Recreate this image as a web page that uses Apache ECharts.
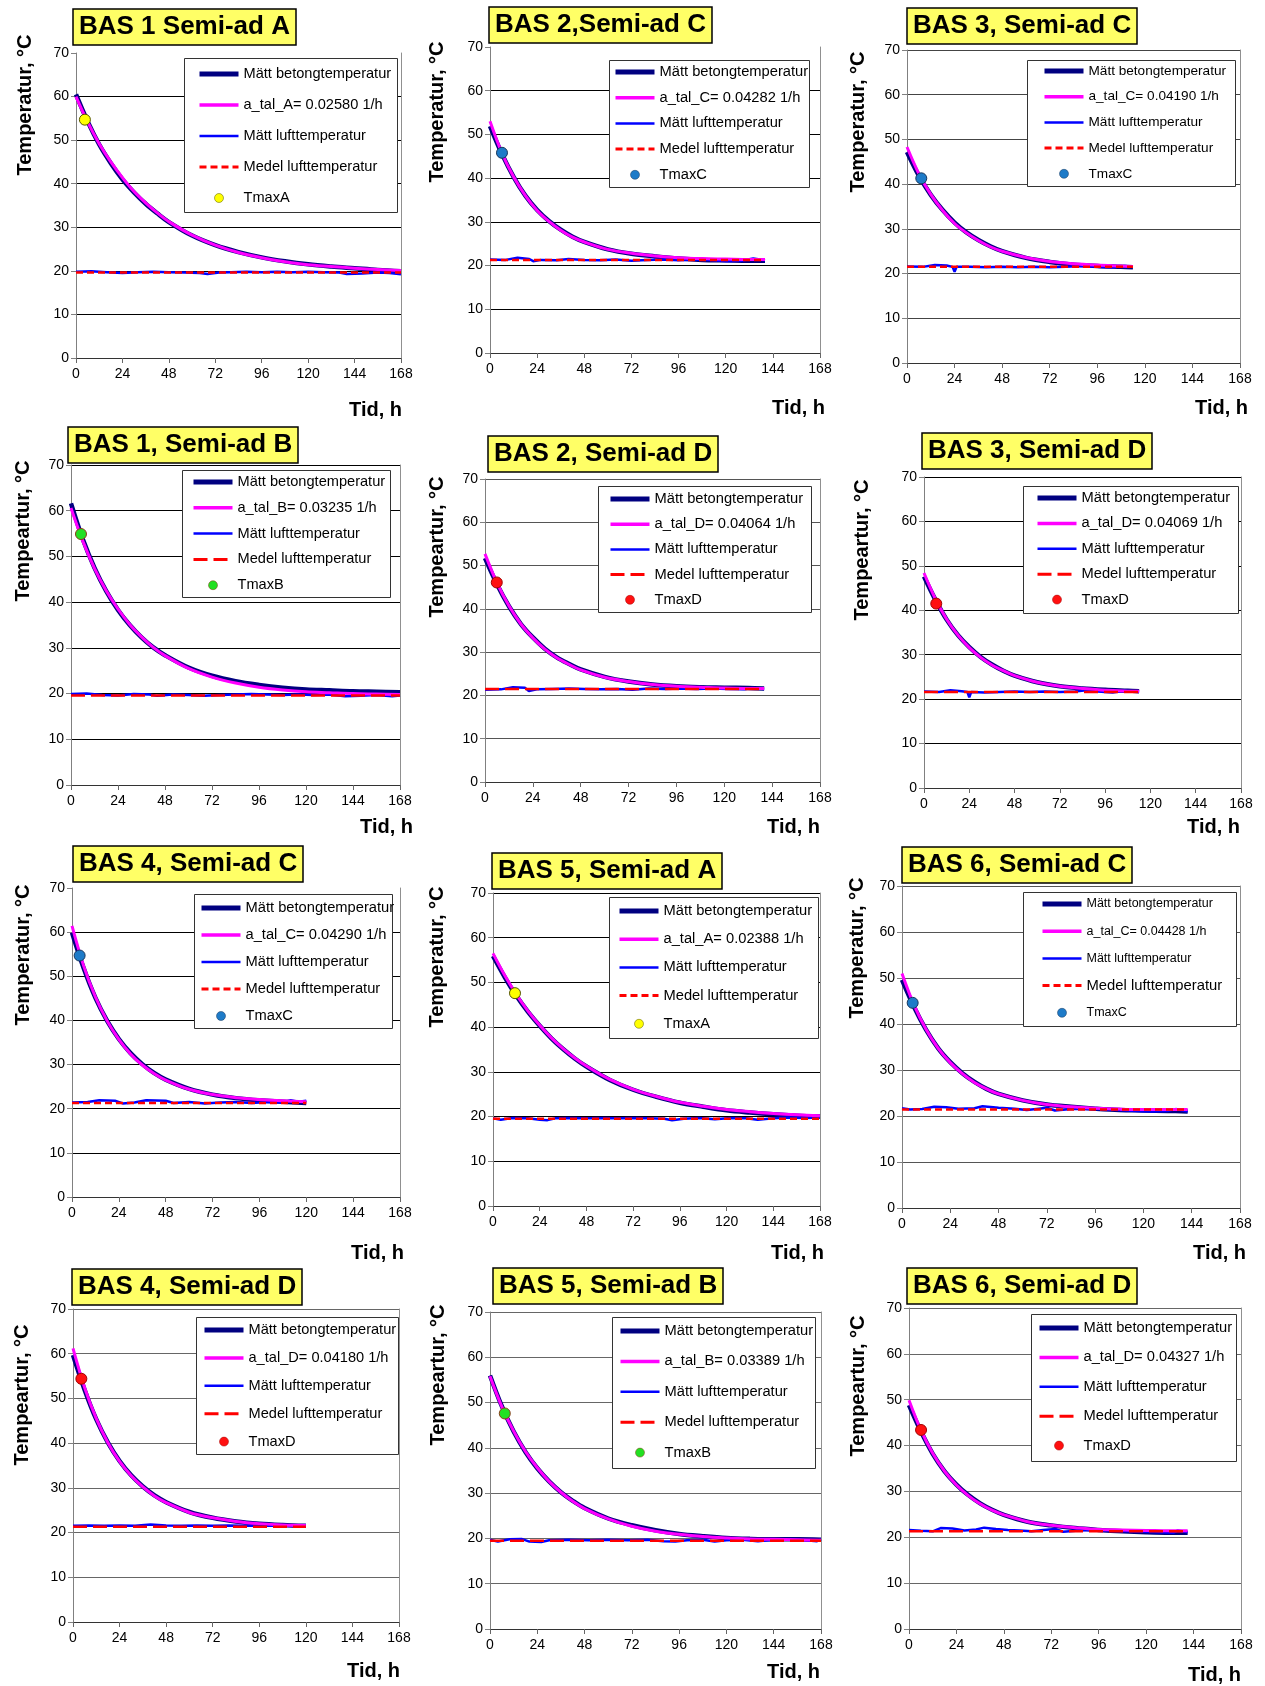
<!DOCTYPE html>
<html>
<head>
<meta charset="utf-8">
<script src="https://cdn.jsdelivr.net/npm/echarts@6/dist/echarts.min.js"></script>
<style>
  html, body { margin: 0; padding: 0; background: #fff; }
  #chart { width: 1265px; height: 1686px; }
</style>
</head>
<body>
<div id="chart"></div>
<script>
// ---- data -------------------------------------------------------------
// time base (h) for the concrete curves; the last value of each curve sits at the panel's end time
const TID = [0, 6, 12, 18, 24, 30, 36, 42, 48, 60, 72, 84, 96, 108, 120, 132, 144, 156, 168];
const endTid = [168, 140, 114, 168, 140, 114, 120, 168, 142, 120, 168, 141];

const titles = [
  'BAS 1 Semi-ad A', 'BAS 2,Semi-ad C', 'BAS 3, Semi-ad C',
  'BAS 1, Semi-ad B', 'BAS 2, Semi-ad D', 'BAS 3, Semi-ad D',
  'BAS 4, Semi-ad C', 'BAS 5, Semi-ad A', 'BAS 6, Semi-ad C',
  'BAS 4, Semi-ad D', 'BAS 5, Semi-ad B', 'BAS 6, Semi-ad D'
];
const yTitles = [
  'Temperatur, °C', 'Temperatur, °C', 'Temperatur, °C',
  'Tempeartur, °C', 'Tempeartur, °C', 'Tempeartur, °C',
  'Temperatur, °C', 'Temperatur, °C', 'Temperatur, °C',
  'Tempeartur, °C', 'Tempeartur, °C', 'Tempeartur, °C'
];
const xTitle = 'Tid, h';
const xTicks = [0, 168, 24];   // min, max, step
const yTicks = [0, 70, 10];

const aTal = [
  'a_tal_A= 0.02580 1/h', 'a_tal_C= 0.04282 1/h', 'a_tal_C= 0.04190 1/h',
  'a_tal_B= 0.03235 1/h', 'a_tal_D= 0.04064 1/h', 'a_tal_D= 0.04069 1/h',
  'a_tal_C= 0.04290 1/h', 'a_tal_A= 0.02388 1/h', 'a_tal_C= 0.04428 1/h',
  'a_tal_D= 0.04180 1/h', 'a_tal_B= 0.03389 1/h', 'a_tal_D= 0.04327 1/h'
];
const tmaxNames = ['TmaxA', 'TmaxC', 'TmaxC', 'TmaxB', 'TmaxD', 'TmaxD',
                   'TmaxC', 'TmaxA', 'TmaxC', 'TmaxD', 'TmaxB', 'TmaxD'];
const tmax = [
  [4.6, 54.7], [6.1, 45.8], [7.2, 41.3], [5.1, 54.9], [5.9, 46.1], [6.5, 41.5],
  [3.9, 54.7], [11.3, 47.6], [5.3, 44.6], [4.3, 54.4], [7.5, 47.6], [6.1, 43.4]
];
const medel = [19.6, 21.3, 21.5, 19.6, 21.5, 21.6, 21.3, 19.5, 21.4, 21.3, 19.5, 21.3];

// measured concrete temperature
const betong1  = [60.5, 54.3, 49.0, 44.7, 41.0, 38.0, 35.4, 33.2, 31.2, 28.1, 25.9, 24.3, 23.1, 22.2, 21.5, 21.0, 20.6, 20.2, 19.9];
const betong2  = [51.9, 45.6, 40.3, 36.0, 32.7, 30.2, 28.2, 26.6, 25.4, 23.7, 22.7, 22.1, 21.6, 21.3, 21.2, 21.1, 21.1];
const betong3  = [47.2, 41.9, 37.6, 34.2, 31.4, 29.2, 27.5, 26.1, 25.0, 23.5, 22.6, 22.0, 21.7, 21.5, 21.4];
const betong4  = [61.6, 53.8, 47.5, 42.4, 38.3, 35.0, 32.3, 30.1, 28.4, 25.7, 23.9, 22.7, 21.9, 21.3, 20.9, 20.7, 20.5, 20.4, 20.3];
const betong5  = [51.7, 45.7, 40.6, 36.5, 33.4, 30.8, 28.8, 27.3, 26.0, 24.3, 23.2, 22.5, 22.1, 21.9, 21.8, 21.7, 21.6];
const betong6  = [47.6, 42.4, 37.9, 34.4, 31.7, 29.5, 27.8, 26.4, 25.3, 23.8, 22.9, 22.4, 22.1, 21.9, 21.8];
const betong7  = [59.9, 51.8, 45.1, 39.9, 35.8, 32.6, 30.1, 28.1, 26.6, 24.5, 23.2, 22.4, 21.9, 21.6, 21.3];
const betong8  = [55.9, 51.2, 47.0, 43.4, 40.3, 37.5, 35.1, 33.0, 31.2, 28.2, 26.0, 24.4, 23.1, 22.2, 21.4, 20.9, 20.5, 20.2, 20.0];
const betong9  = [49.6, 43.7, 38.7, 34.7, 31.7, 29.3, 27.4, 25.9, 24.8, 23.4, 22.5, 22.0, 21.6, 21.3, 21.2, 21.1, 21.0];
const betong10 = [59.7, 51.9, 45.3, 40.1, 36.0, 32.8, 30.3, 28.3, 26.8, 24.6, 23.3, 22.5, 22.0, 21.7, 21.5];
const betong11 = [56.0, 49.2, 43.6, 39.1, 35.5, 32.6, 30.2, 28.3, 26.7, 24.4, 22.9, 21.8, 21.0, 20.5, 20.1, 19.9, 19.8, 19.8, 19.7];
const betong12 = [48.8, 43.1, 38.2, 34.4, 31.5, 29.2, 27.4, 26.0, 24.9, 23.4, 22.6, 22.0, 21.6, 21.3, 21.1, 21.0, 21.0];

// fitted cooling curves (a_tal)
const fit1  = [60.0, 54.2, 49.2, 45.0, 41.4, 38.2, 35.6, 33.3, 31.3, 28.2, 25.9, 24.2, 23.0, 22.1, 21.4, 21.0, 20.6, 20.3, 20.1];
const fit2  = [53.0, 45.8, 40.3, 36.0, 32.6, 30.1, 28.1, 26.5, 25.4, 23.7, 22.8, 22.2, 21.8, 21.6, 21.5, 21.4, 21.4];
const fit3  = [48.3, 42.3, 37.7, 34.1, 31.2, 29.1, 27.4, 26.0, 25.0, 23.6, 22.7, 22.2, 21.9, 21.7, 21.6];
const fit4  = [60.6, 53.4, 47.4, 42.5, 38.5, 35.1, 32.4, 30.1, 28.3, 25.5, 23.6, 22.3, 21.4, 20.8, 20.4, 20.2, 20.0, 19.9, 19.8];
const fit5  = [52.7, 46.0, 40.7, 36.5, 33.3, 30.7, 28.7, 27.2, 25.9, 24.2, 23.2, 22.5, 22.1, 21.9, 21.7, 21.6, 21.6];
const fit6  = [48.4, 42.6, 38.0, 34.4, 31.6, 29.4, 27.7, 26.4, 25.3, 23.8, 22.9, 22.4, 22.0, 21.8, 21.8];
const fit7  = [61.4, 52.3, 45.3, 39.9, 35.7, 32.4, 29.9, 28.0, 26.5, 24.4, 23.2, 22.5, 22.1, 21.8, 21.6];
const fit8  = [56.5, 51.6, 47.3, 43.6, 40.4, 37.6, 35.2, 33.1, 31.3, 28.3, 26.1, 24.5, 23.2, 22.3, 21.6, 21.1, 20.7, 20.4, 20.2];
const fit9  = [51.0, 44.1, 38.8, 34.7, 31.6, 29.2, 27.3, 25.9, 24.8, 23.4, 22.5, 22.0, 21.7, 21.5, 21.4, 21.4, 21.4];
const fit10 = [61.2, 52.4, 45.5, 40.1, 35.9, 32.7, 30.2, 28.2, 26.7, 24.5, 23.3, 22.5, 22.0, 21.7, 21.6];
const fit11 = [55.8, 49.1, 43.7, 39.2, 35.6, 32.6, 30.2, 28.2, 26.6, 24.3, 22.7, 21.6, 20.9, 20.4, 20.1, 19.9, 19.8, 19.7, 19.6];
const fit12 = [49.9, 43.4, 38.3, 34.4, 31.4, 29.1, 27.3, 25.9, 24.9, 23.4, 22.6, 22.1, 21.7, 21.6, 21.5, 21.4, 21.4];

// measured air temperature [h, °C]
const luft1 = [[0,19.8],[8,19.9],[16,19.7],[24,19.5],[32,19.7],[40,19.8],[48,19.7],[56,19.6],[64,19.5],[68,19.3],[74,19.6],[80,19.7],[88,19.8],[96,19.7],[104,19.8],[112,19.7],[120,19.8],[128,19.7],[136,19.6],[140,19.3],[148,19.4],[156,19.6],[162,19.5],[168,19.2]];
const luft2 = [[0,21.4],[8,21.3],[14,21.8],[20,21.5],[22,21.0],[26,21.3],[34,21.2],[40,21.5],[48,21.3],[56,21.2],[64,21.4],[72,21.1],[80,21.3],[88,21.4],[96,21.2],[104,21.4],[112,21.3],[120,21.0],[128,21.1],[134,21.6],[140,21.2]];
const luft3 = [[0,21.6],[8,21.5],[14,21.9],[20,21.8],[23,21.5],[24,20.4],[25,21.5],[32,21.5],[40,21.4],[48,21.5],[56,21.4],[64,21.5],[72,21.4],[80,21.5],[88,21.7],[96,21.5],[104,21.4],[110,21.7],[114,21.5]];
const luft4 = [[0,19.9],[8,20.0],[16,19.7],[24,19.6],[32,19.9],[40,19.8],[44,19.5],[52,19.8],[60,19.7],[68,19.5],[76,19.7],[84,19.8],[92,19.9],[100,19.8],[108,19.7],[116,19.8],[124,19.7],[132,19.8],[140,19.4],[148,19.5],[156,19.7],[164,19.4],[168,19.6]];
const luft5 = [[0,21.3],[8,21.4],[14,21.9],[20,21.8],[22,21.0],[26,21.4],[34,21.5],[42,21.6],[50,21.5],[58,21.4],[66,21.5],[74,21.3],[82,21.6],[90,21.5],[98,21.6],[106,21.5],[114,21.6],[122,21.5],[130,21.4],[134,21.7],[140,21.5]];
const luft6 = [[0,21.7],[8,21.6],[14,22.0],[20,21.8],[23,21.6],[24,20.4],[25,21.6],[32,21.5],[40,21.6],[48,21.7],[56,21.6],[64,21.7],[72,21.6],[80,21.7],[86,22.0],[92,21.7],[100,21.5],[106,21.9],[114,21.7]];
const luft7 = [[0,21.4],[8,21.5],[14,21.9],[22,21.8],[26,21.2],[32,21.4],[38,21.9],[48,21.8],[52,21.3],[60,21.5],[68,21.2],[76,21.4],[84,21.5],[92,21.3],[100,21.5],[108,21.4],[112,21.9],[116,21.6],[120,21.8]];
const luft8 = [[0,19.6],[4,19.3],[10,19.7],[18,19.6],[24,19.3],[28,19.2],[32,19.6],[40,19.7],[48,19.6],[56,19.7],[64,19.6],[72,19.7],[80,19.6],[88,19.5],[92,19.2],[98,19.5],[106,19.7],[114,19.4],[122,19.7],[130,19.6],[136,19.3],[144,19.6],[152,19.8],[160,19.7],[168,19.8]];
const luft9 = [[0,21.7],[4,21.4],[10,21.5],[16,22.0],[22,21.9],[28,21.6],[36,21.7],[40,22.1],[48,21.8],[56,21.6],[62,21.3],[68,21.6],[72,21.8],[76,21.2],[84,21.5],[92,21.6],[100,21.5],[108,21.3],[116,21.1],[124,21.0],[132,21.1],[136,21.5],[142,21.0]];
const luft10 = [[0,21.5],[8,21.6],[16,21.5],[24,21.6],[32,21.5],[40,21.8],[48,21.6],[56,21.5],[64,21.6],[72,21.5],[80,21.6],[88,21.5],[96,21.6],[104,21.5],[112,21.6],[120,21.6]];
const luft11 = [[0,19.7],[4,19.3],[10,19.8],[16,19.9],[20,19.3],[26,19.2],[30,19.6],[40,19.7],[50,19.6],[60,19.7],[70,19.6],[80,19.7],[88,19.4],[94,19.3],[100,19.6],[108,19.7],[114,19.3],[120,19.6],[128,19.7],[136,19.4],[144,19.7],[152,19.8],[160,19.6],[166,19.4],[168,19.8]];
const luft12 = [[0,21.6],[6,21.4],[12,21.3],[16,22.0],[22,21.9],[28,21.5],[34,21.7],[38,22.1],[44,21.8],[50,21.6],[56,21.5],[62,21.3],[68,21.6],[74,21.8],[78,21.2],[86,21.5],[94,21.6],[102,21.5],[110,21.3],[118,21.2],[126,21.1],[134,21.0],[136,21.5],[141,21.1]];

const BETONG = [betong1, betong2, betong3, betong4, betong5, betong6, betong7, betong8, betong9, betong10, betong11, betong12];
const FIT = [fit1, fit2, fit3, fit4, fit5, fit6, fit7, fit8, fit9, fit10, fit11, fit12];
const LUFT = [luft1, luft2, luft3, luft4, luft5, luft6, luft7, luft8, luft9, luft10, luft11, luft12];

// ---- layout -----------------------------------------------------------
const FONT = '"Liberation Sans", Arial, Helvetica, sans-serif';
// plot rectangle [left, top, width, height]
const GRID = [
  [76, 53, 325, 305], [490, 47, 330, 306], [907, 50, 333, 313],
  [71, 465, 329, 320], [485, 479, 335, 303], [924, 477, 317, 311],
  [72, 888, 328, 309], [493, 893, 327, 313], [902, 886, 338, 322],
  [73, 1309, 326, 313], [490, 1312, 331, 317], [909, 1308, 332, 321]
];
const TITLE_AT = [[73, 9], [489, 7], [907, 8], [68, 427], [488, 436], [922, 433],
                  [73, 846], [492, 853], [902, 847], [72, 1269], [493, 1268], [907, 1268]];
const YT_AT = [[25, 105], [437, 112], [858, 122], [23, 531], [437, 547], [862, 550],
               [23, 955], [437, 957], [857, 948], [22, 1395], [438, 1375], [858, 1386]];
const XT_AT = [[402, 410], [825, 408], [1248, 408], [413, 827], [820, 827], [1240, 827],
               [404, 1253], [824, 1253], [1246, 1253], [400, 1671], [820, 1672], [1241, 1675]];
// legend frame [x, y, w, h] and [icon left, first row centre, row pitch]
const LEG_BOX = [
  [184, 58, 213, 154], [609, 60, 200, 127], [1027, 60, 208, 126],
  [182, 470, 208, 127], [598, 486, 213, 126], [1023, 486, 215, 127],
  [194, 894, 198, 134], [609, 897, 209, 141], [1023, 892, 213, 134],
  [196, 1317, 202, 137], [612, 1317, 203, 151], [1031, 1314, 205, 147]
];
const LEG_AT = [
  [197, 74, 31], [613, 72, 25.7], [1042, 71, 25.7],
  [191, 482, 25.8], [608, 499, 25.2], [1035, 498, 25.4],
  [199, 908, 27], [617, 911, 28.2], [1040, 904, 27.2],
  [202, 1330, 27.9], [618, 1331, 30.4], [1037, 1328, 29.4]
];
const LEG_FONT = [14.6, 14.7, 13.6, 14.6, 14.7, 14.7, 14.7, 14.7, 12.5, 14.6, 14.7, 14.7];
const GRID_COLOR = ['#000', '#000', '#444', '#000', '#555', '#000', '#000', '#000', '#555', '#666', '#666', '#666'];
const NO_TOP = [true, true, false, false, false, false, true, false, false, false, false, false];

const SHORT_DASH = [7, 4];
const LONG_DASH = [14, 6];
const MARKER = {
  A: { color: '#FFFF00', borderColor: '#555500' },
  B: { color: '#22E022', borderColor: '#8B3A1A' },
  C: { color: '#1E7BC8', borderColor: '#17365D' },
  D: { color: '#FF1010', borderColor: '#A00000' }
};
// line-only legend keys: hide the centre dot
const NO_DOT = { color: 'transparent', borderWidth: 0, opacity: 0 };

function onTid(vals, end) {
  return vals.map((v, i) => [i === vals.length - 1 ? end : TID[i], v]);
}

const grid = [], xAxis = [], yAxis = [], series = [], title = [], legend = [], graphic = [];
const LH = 16;

for (let i = 0; i < 12; i++) {
  const g = GRID[i];
  const kind = tmaxNames[i].slice(-1);
  const dash = (kind === 'A' || kind === 'C') ? SHORT_DASH : LONG_DASH;
  const mk = MARKER[kind];

  grid.push({ left: g[0], top: g[1], width: g[2], height: g[3], containLabel: false });

  xAxis.push({
    gridIndex: i, type: 'value', min: xTicks[0], max: xTicks[1], interval: xTicks[2],
    axisLine: { show: true, onZero: false, lineStyle: { color: '#333', width: 1 } },
    axisTick: { show: true, length: 5, lineStyle: { color: '#666' } },
    axisLabel: { fontSize: 14, color: '#000', margin: 9, fontFamily: FONT },
    splitLine: { show: false }
  });

  yAxis.push({
    gridIndex: i, type: 'value', min: yTicks[0], max: yTicks[1], interval: yTicks[2],
    axisLine: { show: true, lineStyle: { color: '#808080', width: 1 } },
    axisTick: { show: true, length: 5, lineStyle: { color: '#808080' } },
    axisLabel: { fontSize: 14, color: '#000', margin: 7, fontFamily: FONT },
    splitLine: { show: true, showMaxLine: !NO_TOP[i], lineStyle: { color: GRID_COLOR[i], width: 1 } }
  });

  title.push({
    text: titles[i], left: TITLE_AT[i][0], top: TITLE_AT[i][1],
    padding: [3, 6, 3, 6],
    backgroundColor: '#FFFF66', borderColor: '#000', borderWidth: 1.5,
    textStyle: { fontFamily: FONT, fontSize: 26, fontWeight: 'bold', color: '#000', lineHeight: 30 }
  });

  series.push({
    type: 'line', name: 'Mätt betongtemperatur', xAxisIndex: i, yAxisIndex: i,
    data: onTid(BETONG[i], endTid[i]), symbol: 'none', smooth: 0.35, silent: true,
    lineStyle: { color: '#000080', width: 4.5 }, itemStyle: { color: '#000080' }, z: 3
  });
  series.push({
    type: 'line', name: aTal[i], xAxisIndex: i, yAxisIndex: i,
    data: onTid(FIT[i], endTid[i]), symbol: 'none', smooth: 0.35, silent: true,
    lineStyle: { color: '#FF00FF', width: 3 }, itemStyle: { color: '#FF00FF' }, z: 4
  });
  series.push({
    type: 'line', name: 'Mätt lufttemperatur', xAxisIndex: i, yAxisIndex: i,
    data: LUFT[i], symbol: 'none', silent: true,
    lineStyle: { color: '#0000FF', width: 2.5 }, itemStyle: { color: '#0000FF' }, z: 3
  });
  series.push({
    type: 'line', name: 'Medel lufttemperatur', xAxisIndex: i, yAxisIndex: i,
    data: [[0, medel[i]], [endTid[i], medel[i]]], symbol: 'none', silent: true,
    lineStyle: { color: '#FF0000', width: 2.5, type: dash }, itemStyle: { color: '#FF0000' }, z: 4
  });
  series.push({
    type: 'scatter', name: tmaxNames[i], xAxisIndex: i, yAxisIndex: i,
    data: [tmax[i]], symbol: 'circle', symbolSize: 11, silent: true,
    itemStyle: { color: mk.color, borderColor: mk.borderColor, borderWidth: 1, opacity: 1 }, z: 6
  });

  // legend frame
  const b = LEG_BOX[i];
  graphic.push({
    type: 'rect', z: 10, silent: true,
    shape: { x: b[0] + 0.5, y: b[1] + 0.5, width: b[2], height: b[3] },
    style: { fill: '#fff', stroke: '#333', lineWidth: 1 }
  });

  const la = LEG_AT[i];
  const fs = LEG_FONT[i];
  const medelFont = i === 8 ? 14.8 : fs;
  legend.push({
    orient: 'vertical', left: la[0], top: la[1] - LH / 2, padding: 0, z: 20,
    itemWidth: 39, itemHeight: 9, itemGap: la[2] - LH, selectedMode: false,
    textStyle: { fontFamily: FONT, fontSize: fs, color: '#000', lineHeight: LH },
    data: [
      { name: 'Mätt betongtemperatur', lineStyle: { width: 5, color: '#000080' }, itemStyle: NO_DOT },
      { name: aTal[i], lineStyle: { width: 3.5, color: '#FF00FF' }, itemStyle: NO_DOT },
      { name: 'Mätt lufttemperatur', lineStyle: { width: 2.5, color: '#0000FF' }, itemStyle: NO_DOT },
      { name: 'Medel lufttemperatur', lineStyle: { width: 3, color: '#FF0000', type: dash },
        itemStyle: NO_DOT, textStyle: { fontSize: medelFont } },
      { name: tmaxNames[i], icon: 'circle',
        itemStyle: { color: mk.color, borderColor: mk.borderColor, borderWidth: 0.5 } }
    ]
  });

  // axis titles
  graphic.push({
    type: 'text', x: YT_AT[i][0], y: YT_AT[i][1], rotation: Math.PI / 2, z: 12, silent: true,
    style: { text: yTitles[i], font: 'bold 20px ' + FONT, fill: '#000', align: 'center', verticalAlign: 'middle' }
  });
  graphic.push({
    type: 'text', x: XT_AT[i][0], y: XT_AT[i][1], z: 12, silent: true,
    style: { text: xTitle, font: 'bold 20px ' + FONT, fill: '#000', align: 'right', verticalAlign: 'middle' }
  });
}

// right-hand frame line of each plot
for (let i = 0; i < 12; i++) {
  yAxis.push({
    gridIndex: i, type: 'value', position: 'right', min: yTicks[0], max: yTicks[1], interval: yTicks[2],
    axisLine: { show: true, lineStyle: { color: '#909090', width: 1 } },
    axisTick: { show: false }, axisLabel: { show: false }, splitLine: { show: false }
  });
}

const chart = echarts.init(document.getElementById('chart'), null, { renderer: 'canvas' });
chart.setOption({
  backgroundColor: '#fff',
  animation: false,
  title, grid, xAxis, yAxis, series, legend, graphic
});
</script>
</body>
</html>
